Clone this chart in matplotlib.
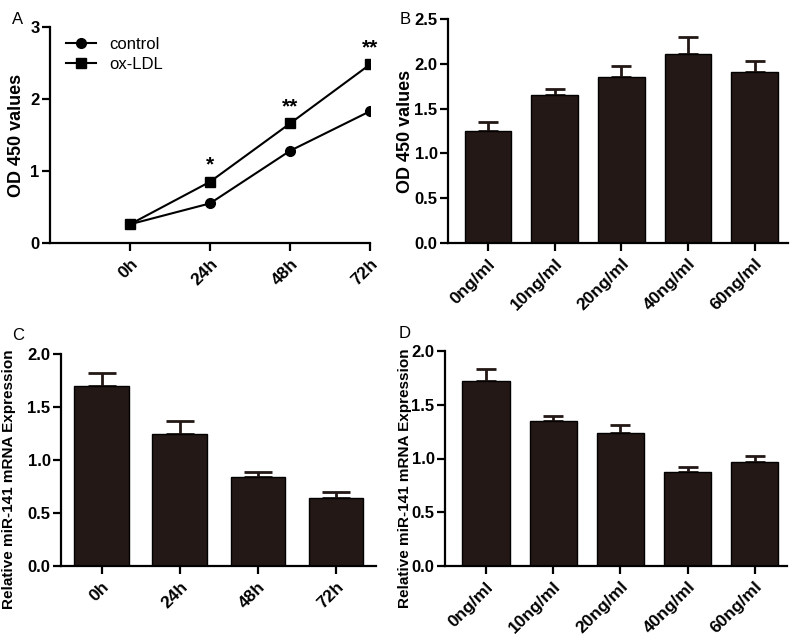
import matplotlib
matplotlib.use("Agg")
import matplotlib.pyplot as plt
import numpy as np

plt.rcParams['font.family'] = ['Liberation Sans', 'DejaVu Sans']

# Panel A data
time_labels = ["0h", "24h", "48h", "72h"]
control_vals = [0.26, 0.55, 1.28, 1.83]
oxldl_vals = [0.26, 0.85, 1.66, 2.48]
a_stars = ["", "*", "**", "**"]

# Panel B data
dose_labels = ["0ng/ml", "10ng/ml", "20ng/ml", "40ng/ml", "60ng/ml"]
b_means = [1.25, 1.65, 1.85, 2.11, 1.91]
b_errs = [0.10, 0.07, 0.12, 0.19, 0.12]

# Panel C data
c_means = [1.70, 1.25, 0.84, 0.64]
c_errs = [0.12, 0.12, 0.05, 0.06]

# Panel D data
d_means = [1.72, 1.35, 1.24, 0.87, 0.97]
d_errs = [0.11, 0.05, 0.07, 0.05, 0.05]

BAR = '#231815'
W, H = 800, 643
fig = plt.figure(figsize=(8, 6.43), dpi=100)

def ax_px(left, right, top, bottom):
    return fig.add_axes([left / W, (H - bottom) / H, (right - left) / W, (bottom - top) / H])

def style(ax):
    for s in ['top', 'right']:
        ax.spines[s].set_visible(False)
    for s in ['left', 'bottom']:
        ax.spines[s].set_linewidth(1.6)
    ax.tick_params(direction='out', length=5.5, width=1.6, pad=2)
    ax.tick_params(axis='y', labelsize=12)
    ax.tick_params(axis='x', labelsize=12.5, pad=4)
    for lab in ax.get_yticklabels() + ax.get_xticklabels():
        lab.set_fontweight('bold')

def bar_panel(ax, labels, means, errs, xlim, ylim, yticks, capsize):
    x = np.arange(len(labels))
    ax.bar(x, means, width=0.7, color=BAR, edgecolor='black', linewidth=1, zorder=2)
    ax.errorbar(x, means, yerr=[np.zeros(len(errs)), errs], fmt='none',
                ecolor=BAR, elinewidth=2, capsize=capsize, capthick=2, zorder=1)
    ax.set_xlim(*xlim)
    ax.set_ylim(*ylim)
    ax.set_yticks(yticks)
    ax.set_yticklabels([f"{v:.1f}" for v in yticks])
    ax.set_xticks(x)
    ax.set_xticklabels(labels, rotation=45, ha='right', rotation_mode='anchor')
    style(ax)

# Panel A
axA = ax_px(50, 370, 27, 243)
xa = np.arange(len(time_labels))
axA.plot(xa, control_vals, color='black', lw=1.5, marker='o', ms=7, label='control')
axA.plot(xa, oxldl_vals, color='black', lw=1.5, marker='s', ms=7.5, label='ox-LDL')
for xi, v, s in zip(xa, oxldl_vals, a_stars):
    if s:
        axA.annotate(s, (xi, v), xytext=(0, 5), textcoords='offset points',
                     ha='center', va='bottom', fontsize=15, fontweight='bold')
axA.set_xlim(-1, 3)
axA.set_ylim(0, 3)
axA.set_yticks([0, 1, 2, 3])
axA.set_xticks(xa)
axA.set_xticklabels(time_labels, rotation=45, ha='right', rotation_mode='anchor')
style(axA)
leg = axA.legend(loc='upper left', bbox_to_anchor=(0.02, 1.0), frameon=False,
                 fontsize=12, handlelength=1.8, handletextpad=0.8, borderaxespad=0.2,
                 labelspacing=0.3)

# Panel B
axB = ax_px(448, 788, 19, 243)
bar_panel(axB, dose_labels, b_means, b_errs, (-0.6, 4.5), (0, 2.5),
          [0.0, 0.5, 1.0, 1.5, 2.0, 2.5], 7.5)

# Panel C
axC = ax_px(61, 376, 354, 566)
bar_panel(axC, time_labels, c_means, c_errs, (-0.52, 3.51), (0, 2.0),
          [0.0, 0.5, 1.0, 1.5, 2.0], 10)

# Panel D
axD = ax_px(445, 787, 351, 566)
bar_panel(axD, dose_labels, d_means, d_errs, (-0.61, 4.48), (0, 2.0),
          [0.0, 0.5, 1.0, 1.5, 2.0], 7.5)

# y labels
fig.text(17 / W, 1 - 135 / H, "OD 450 values", rotation=90, ha='center', va='center',
         fontsize=13, fontweight='bold')
fig.text(406 / W, 1 - 131 / H, "OD 450 values", rotation=90, ha='center', va='center',
         fontsize=13, fontweight='bold')
fig.text(9 / W, 1 - 479 / H, "Relative miR-141 mRNA Expression", rotation=90,
         ha='center', va='center', fontsize=11, fontweight='bold')
fig.text(405 / W, 1 - 478 / H, "Relative miR-141 mRNA Expression", rotation=90,
         ha='center', va='center', fontsize=11, fontweight='bold')

# panel letters
for letter, px, py in [("A", 18, 19), ("B", 405, 20), ("C", 18, 335), ("D", 405, 333)]:
    fig.text(px / W, 1 - py / H, letter, ha='center', va='center', fontsize=12)

fig.savefig("out.png", dpi=100)
